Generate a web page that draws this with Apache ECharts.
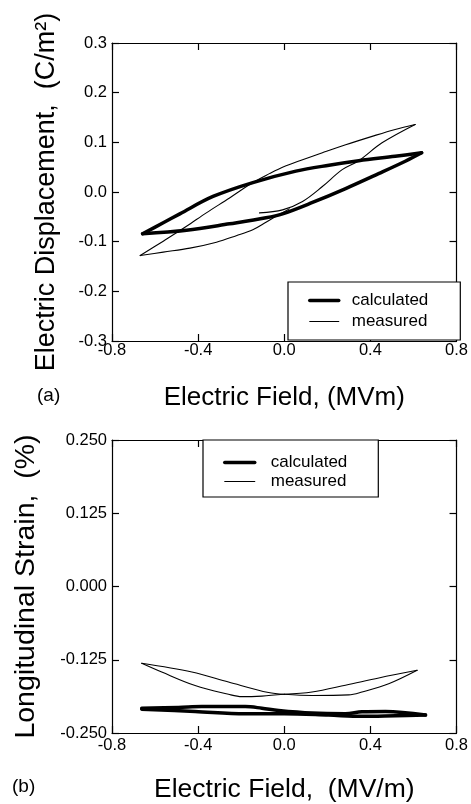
<!DOCTYPE html>
<html>
<head>
<meta charset="utf-8">
<script src="https://cdn.jsdelivr.net/npm/echarts@6/dist/echarts.min.js"></script>
<style>
html,body{margin:0;padding:0;background:#fff;}
#chart{width:471px;height:804px;}
</style>
</head>
<body>
<div id="chart"></div>
<script>
// ---- Data ----
// Panel (a): electric displacement (C/m^2) vs electric field (MV/m)
const aCalcUpper = [[-0.658,-0.084],[-0.562,-0.062],[-0.485,-0.044],[-0.331,-0.009],[-0.146,0.019],[0.054,0.042],[0.208,0.054],[0.346,0.063],[0.515,0.072],[0.638,0.079]];
const aCalcLower = [[0.638,0.079],[0.562,0.062],[0.438,0.037],[0.285,0.007],[0.131,-0.021],[-0.008,-0.044],[-0.085,-0.052],[-0.254,-0.064],[-0.454,-0.077],[-0.658,-0.084]];
const aMeasRise = [[-0.115,-0.042],[-0.008,-0.036],[0.085,-0.019],[0.177,0.011],[0.269,0.045],[0.346,0.063],[0.454,0.099],[0.608,0.136]];
const aMeasFall = [[0.608,0.136],[0.515,0.126],[0.408,0.112],[0.285,0.095],[0.177,0.079],[0.085,0.065],[-0.008,0.050],[-0.069,0.037],[-0.146,0.019],[-0.254,-0.012],[-0.362,-0.042],[-0.454,-0.069],[-0.562,-0.099],[-0.669,-0.128]];
const aMeasReturn = [[-0.669,-0.128],[-0.562,-0.121],[-0.438,-0.113],[-0.315,-0.101],[-0.223,-0.088],[-0.146,-0.076],[-0.085,-0.061],[-0.038,-0.049],[0.023,-0.034]];

// Panel (b): longitudinal strain (%) vs electric field (MV/m)
const bCalcUpper = [[-0.662,-0.2077],[-0.492,-0.2065],[-0.383,-0.2049],[-0.181,-0.2049],[-0.104,-0.2077],[-0.026,-0.2116],[0.129,-0.2160],[0.284,-0.2171],[0.361,-0.2138],[0.470,-0.2132],[0.656,-0.2194]];
const bCalcLower = [[-0.662,-0.2093],[-0.414,-0.2132],[-0.181,-0.2171],[0.000,-0.2171],[0.206,-0.2194],[0.361,-0.2216],[0.516,-0.2205],[0.656,-0.2194]];
const bMeasUpperLeft = [[-0.662,-0.131],[-0.429,-0.146],[-0.259,-0.163],[-0.073,-0.181],[0.000,-0.184]];
const bMeasLowerLeft = [[-0.662,-0.131],[-0.569,-0.146],[-0.414,-0.169],[-0.259,-0.184],[-0.197,-0.188],[-0.104,-0.187],[0.000,-0.184]];
const bMeasUpperRight = [[0.000,-0.184],[0.129,-0.180],[0.284,-0.1685],[0.439,-0.156],[0.617,-0.143]];
const bMeasLowerRight = [[0.000,-0.184],[0.129,-0.186],[0.299,-0.185],[0.361,-0.180],[0.485,-0.166],[0.617,-0.143]];

const xTicks = [-0.8, -0.4, 0.0, 0.4, 0.8];
const aYTicks = [-0.3, -0.2, -0.1, 0.0, 0.1, 0.2, 0.3];
const bYTicks = [-0.250, -0.125, 0.000, 0.125, 0.250];
const legendNames = ['calculated', 'measured'];

// ---- Chart ----
const FONT = '"Liberation Sans", Arial, Helvetica, sans-serif';
const chart = echarts.init(document.getElementById('chart'), null, {renderer: 'canvas'});

const THICK = 3.5, THIN = 1.1;
const AXLINE = {show: true, onZero: false, lineStyle: {color: '#000', width: 1.2}};
const AXTICK = {show: true, inside: true, length: 7, lineStyle: {color: '#000', width: 1.2}};

function xAxisMain(gi, name, gap, fs, margin) {
  return {
    type: 'value', gridIndex: gi, position: 'bottom',
    min: xTicks[0], max: xTicks[xTicks.length - 1], interval: 0.4,
    name: name, nameLocation: 'middle', nameGap: gap,
    nameTextStyle: {fontFamily: FONT, fontSize: fs, color: '#000'},
    axisLine: AXLINE, axisTick: AXTICK,
    axisLabel: {show: true, margin: margin, fontFamily: FONT, fontSize: 16.5, color: '#000',
      formatter: v => v.toFixed(1)},
    splitLine: {show: false}
  };
}
function xAxisTop(gi) {
  return {
    type: 'value', gridIndex: gi, position: 'top',
    min: xTicks[0], max: xTicks[xTicks.length - 1], interval: 0.4,
    axisLine: AXLINE, axisTick: AXTICK,
    axisLabel: {show: false}, splitLine: {show: false}
  };
}
function yAxisMain(gi, ticks, interval, digits, name, gap, fs) {
  return {
    type: 'value', gridIndex: gi, position: 'left',
    min: ticks[0], max: ticks[ticks.length - 1], interval: interval,
    name: name, nameLocation: 'middle', nameGap: gap, nameRotate: 90,
    nameTextStyle: {fontFamily: FONT, fontSize: fs, color: '#000'},
    axisLine: AXLINE, axisTick: AXTICK,
    axisLabel: {show: true, margin: 5, fontFamily: FONT, fontSize: 16.5, color: '#000',
      formatter: v => v.toFixed(digits)},
    splitLine: {show: false}
  };
}
function yAxisRight(gi, ticks, interval) {
  return {
    type: 'value', gridIndex: gi, position: 'right',
    min: ticks[0], max: ticks[ticks.length - 1], interval: interval,
    axisLine: AXLINE, axisTick: AXTICK,
    axisLabel: {show: false}, splitLine: {show: false}
  };
}
function line(name, data, xi, yi, width) {
  return {
    name: name, type: 'line', data: data, xAxisIndex: xi, yAxisIndex: yi,
    symbol: 'none', smooth: 0.35, silent: true, animation: false,
    lineStyle: {color: '#000', width: width, cap: 'round', join: 'round'},
    itemStyle: {color: '#000'}
  };
}
function legendCfg(left, top, pad, iw, gap, txtPad) {
  return {
    orient: 'vertical', left: left, top: top, padding: pad,
    itemWidth: iw, itemHeight: 14, itemGap: gap,
    borderColor: '#000', borderWidth: 1.2, backgroundColor: '#fff', borderRadius: 0,
    selectedMode: false,
    itemStyle: {opacity: 0},
    textStyle: {fontFamily: FONT, fontSize: 17, color: '#000', padding: [0, 0, 0, txtPad]},
    data: [
      {name: legendNames[0], lineStyle: {width: THICK, color: '#000'}, itemStyle: {opacity: 0}},
      {name: legendNames[1], lineStyle: {width: THIN, color: '#000'}, itemStyle: {opacity: 0}}
    ]
  };
}

const option = {
  backgroundColor: '#fff',
  animation: false,
  textStyle: {fontFamily: FONT},
  title: [
    {text: '(a)', left: 37, top: 386, padding: 0, textStyle: {fontFamily: FONT, fontSize: 19, fontWeight: 'normal', color: '#000'}},
    {text: '(b)', left: 12, top: 777, padding: 0, textStyle: {fontFamily: FONT, fontSize: 19, fontWeight: 'normal', color: '#000'}}
  ],
  grid: [
    {left: 112, top: 43, width: 348, height: 298, show: false},
    {left: 112, top: 440, width: 349, height: 297, show: false}
  ],
  xAxis: [
    xAxisMain(0, 'Electric Field, (MVm)', 44, 26, 1),
    xAxisMain(1, 'Electric Field,  (MV/m)', 43, 26.5, 4),
    xAxisTop(0),
    xAxisTop(1)
  ],
  yAxis: [
    yAxisMain(0, aYTicks, 0.1, 1, 'Electric Displacement,  (C/m\u00B2)', 52, 27),
    yAxisMain(1, bYTicks, 0.125, 3, 'Longitudinal Strain,  (%)', 71, 28.5),
    yAxisRight(0, aYTicks, 0.1),
    yAxisRight(1, bYTicks, 0.125)
  ],
  legend: [
    legendCfg(288, 282, [10, 32, 10, 20], 29, 4, 8),
    legendCfg(203, 440, [14, 31, 7, 20], 30, 2, 11)
  ],
  series: [
    line('calculated', aCalcUpper, 0, 0, THICK),
    line('calculated', aCalcLower, 0, 0, THICK),
    line('measured', aMeasRise, 0, 0, THIN),
    line('measured', aMeasFall, 0, 0, THIN),
    line('measured', aMeasReturn, 0, 0, THIN),
    line('calculated', bCalcUpper, 1, 1, THICK),
    line('calculated', bCalcLower, 1, 1, THICK),
    line('measured', bMeasUpperLeft, 1, 1, THIN),
    line('measured', bMeasLowerLeft, 1, 1, THIN),
    line('measured', bMeasUpperRight, 1, 1, THIN),
    line('measured', bMeasLowerRight, 1, 1, THIN)
  ]
};
chart.setOption(option);
</script>
</body>
</html>
